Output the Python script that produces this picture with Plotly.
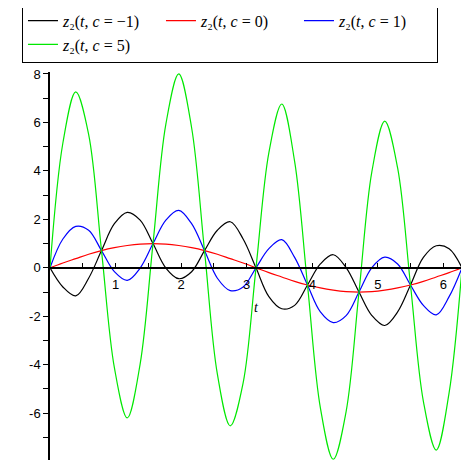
import math
import plotly.graph_objects as go

# sample points t = k*pi/16, k = 0..32
t_vals = [k * math.pi / 16 for k in range(33)]

z_c_minus1 = [0, -0.79, -1.16, -0.43, 0.71, 1.82, 2.29, 1.97, 1.0,
              -0.01, -0.45, -0.16, 0.71, 1.55, 1.9, 1.19, 0,
              -1.19, -1.69, -1.55, -0.71, 0.16, 0.54, 0.01, -1.0,
              -1.97, -2.38, -1.82, -0.71, 0.43, 0.91, 0.79, 0]
z_c_0 = [0, 0.2, 0.38, 0.56, 0.71, 0.83, 0.92, 0.98, 1.0,
         0.98, 0.92, 0.83, 0.71, 0.56, 0.38, 0.2, 0,
         -0.2, -0.38, -0.56, -0.71, -0.83, -0.92, -0.98, -1.0,
         -0.98, -0.92, -0.83, -0.71, -0.56, -0.38, -0.2, 0]
z_c_1 = [0, 1.19, 1.71, 1.55, 0.71, -0.16, -0.52, -0.01, 1.0,
         1.97, 2.37, 1.82, 0.71, -0.43, -0.94, -0.79, 0,
         0.79, 1.16, 0.43, -0.71, -1.82, -2.26, -1.97, -1.0,
         0.01, 0.44, 0.16, -0.71, -1.55, -1.94, -1.19, 0]
z_c_5 = [0, 5.15, 7.26, 5.51, 0.71, -4.12, -6.19, -3.97, 1.0,
         5.93, 8.0, 5.78, 0.71, -4.39, -6.52, -4.75, 0,
         4.75, 6.76, 4.39, -0.71, -5.78, -7.9, -5.93, -1.0,
         3.97, 6.05, 4.12, -0.71, -5.51, -7.52, -5.15, 0]

series_names = ["<i>z</i>\u2082(<i>t</i>, <i>c</i> = \u22121)",
                "<i>z</i>\u2082(<i>t</i>, <i>c</i> = 0)",
                "<i>z</i>\u2082(<i>t</i>, <i>c</i> = 1)",
                "<i>z</i>\u2082(<i>t</i>, <i>c</i> = 5)"]
series_colors = ["#000000", "#ff0000", "#0000ff", "#00e800"]

x_tickvals = [1, 2, 3, 4, 5, 6]
y_tickvals = [-6, -4, -2, 0, 2, 4, 6, 8]
y_ticktext = ["-6", "-4", "-2", "0", "2", "4", "6", "8"]

y_lo, y_hi = -7.93, 8.08

fig = go.Figure()
for ys, name, col in zip([z_c_minus1, z_c_0, z_c_1, z_c_5], series_names, series_colors):
    fig.add_trace(go.Scatter(x=t_vals, y=ys, name=name, mode="lines",
                             line=dict(color=col, width=1.2, shape="spline", smoothing=1.0)))

# page body has an 8px margin, so the figure is shifted by that much
fig.update_layout(
    width=469, height=465,
    margin=dict(l=42, r=15, t=64, b=13, autoexpand=False),
    paper_bgcolor="white", plot_bgcolor="white",
    font=dict(family="Liberation Sans", size=13, color="black"),
    legend=dict(orientation="h", x=-0.068, y=1.024, xanchor="left", yanchor="bottom",
                bordercolor="black", borderwidth=1, bgcolor="white",
                font=dict(family="Liberation Serif", size=16, color="black"),
                entrywidth=93, tracegroupgap=0),
    xaxis=dict(range=[0, 2 * math.pi], anchor="free", position=(0 - y_lo) / (y_hi - y_lo),
               showline=True, linecolor="black", linewidth=1.5, showgrid=False, zeroline=False,
               ticks="inside", ticklen=4, tickcolor="black", tickvals=x_tickvals,
               ticklabelstandoff=5,
               minor=dict(dtick=0.5, ticks="inside", ticklen=4, tickcolor="black"),
               title=dict(text="<i>t</i>", standoff=10,
                          font=dict(family="Liberation Serif", size=14))),
    yaxis=dict(range=[y_lo, y_hi], showline=True, linecolor="black", linewidth=1.5,
               showgrid=False, zeroline=False, ticks="outside", ticklen=5, tickcolor="black",
               tickvals=y_tickvals, ticktext=y_ticktext,
               minor=dict(dtick=1, ticks="outside", ticklen=5, tickcolor="black")),
)

fig.write_html("out.html")
